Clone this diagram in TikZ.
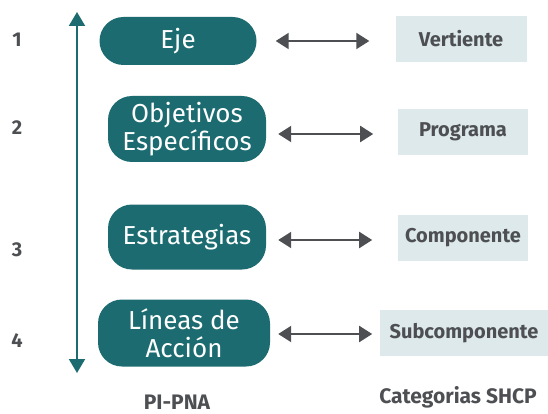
\documentclass[tikz,border=0pt]{standalone}
\usepackage{fontspec}
\setmainfont{Fira Sans}
\usetikzlibrary{arrows.meta,positioning}

\definecolor{petrol}{HTML}{1B6B70}
\definecolor{celeste}{HTML}{DDE9EA}
\definecolor{grisosc}{HTML}{4D4F53}

\tikzset{
  nivel/.style={fill=petrol, text=white, rounded corners=24pt, align=center,
    inner sep=0pt, font=\fontsize{26}{28}\selectfont},
  categoria/.style={fill=celeste, text=grisosc, inner sep=0pt,
    minimum height=46pt, font=\bfseries\fontsize{20}{22}\selectfont},
  numero/.style={text=grisosc, font=\bfseries\fontsize{20}{22}\selectfont},
  titulo/.style={text=grisosc, font=\bfseries\fontsize{21}{23}\selectfont},
  doble/.style={draw=grisosc, line width=2pt,
    {Triangle[length=13pt,width=16pt]}-{Triangle[length=13pt,width=16pt]}},
}

\begin{document}
\begin{tikzpicture}[x=1pt,y=-1pt]
  \useasboundingbox (0,0) rectangle (548,414);

  % eje vertical
  \coordinate (arriba) at (77,12);
  \coordinate (abajo) at (77,373);
  \draw[petrol, line width=2pt,
    {Triangle[length=14pt,width=16pt]}-{Triangle[length=14pt,width=16pt]}]
    (arriba) -- (abajo);

  \node[numero] (n1) at (17,40) {1};
  \node[numero] (n2) at (17,128) {2};
  \node[numero] (n3) at (17,250) {3};
  \node[numero] (n4) at (17,341) {4};

  % PI-PNA
  \node[nivel, minimum width=157pt, minimum height=48pt] (eje) at (178,41) {Eje};
  \node[nivel, minimum width=158pt, minimum height=66pt] (objetivos) at (187,129)
    {Objetivos\\Específicos};
  \node[nivel, minimum width=158pt, minimum height=65pt] (estrategias) at (187,237)
    {Estrategias};
  \node[nivel, minimum width=172pt, minimum height=67pt] (lineas) at (184,333)
    {Líneas de\\Acción};

  % categorias SHCP
  \node[categoria, minimum width=131pt] (vertiente) at (461,39) {Vertiente};
  \node[categoria, minimum width=130pt] (programa) at (463,132) {Programa};
  \node[categoria, minimum width=130pt] (componente) at (463,238) {Componente};
  \node[categoria, minimum width=168pt] (subcomp) at (464,333) {Subcomponente};

  \draw[doble, shorten <=19pt, shorten >=26pt] (eje.east) -- (eje.east -| vertiente.west);
  \draw[doble, shorten <=12pt, shorten >=25pt] (objetivos.east) ++(0,5) -- ++(132,0);
  \draw[doble, shorten <=12pt, shorten >=26pt] (estrategias.east) ++(0,3) -- ++(132,0);
  \draw[doble, shorten <=8pt, shorten >=8pt] (lineas.east) ++(0,1) -- ++(110,0);

  \node[titulo] (pipna) at (177,402) {PI-PNA};
  \node[titulo] (shcp) at (458,397) {Categorias SHCP};
\end{tikzpicture}
\end{document}
